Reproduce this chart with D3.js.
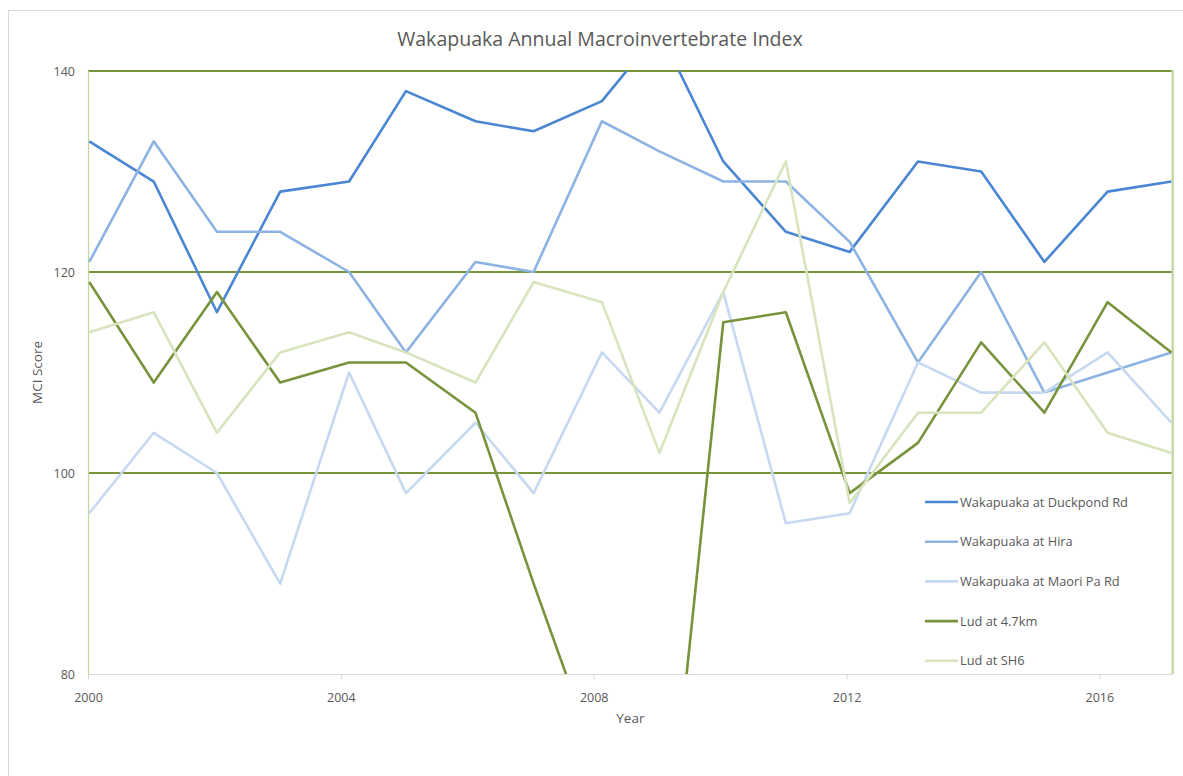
<!DOCTYPE html>
<html>
<head>
<meta charset="utf-8">
<script src="https://cdn.jsdelivr.net/npm/d3@7"></script>
<style>
  html, body { margin: 0; padding: 0; background: #ffffff; }
  svg { display: block; }
  text { font-family: "Open Sans", "Noto Sans", sans-serif; fill: #595959; }
</style>
</head>
<body>
<svg id="chart" width="1183" height="776"></svg>
<script>
// ---- data ----
const sampleYears = [2000.02, 2001.04, 2002.04, 2003.04, 2004.13, 2005.03, 2006.13, 2007.05, 2008.13,
                     2009.04, 2010.05, 2011.04, 2012.05, 2013.13, 2014.13, 2015.13, 2016.13, 2017.14];
const seriesNames = ["Wakapuaka at Duckpond Rd", "Wakapuaka at Hira", "Wakapuaka at Maori Pa Rd", "Lud at 4.7km", "Lud at SH6"];
const duckpond = [133, 129, 116, 128, 129, 138, 135, 134, 137, 144, 131, 124, 122, 131, 130, 121, 128, 129];
const hira     = [121, 133, 124, 124, 120, 112, 121, 120, 135, 132, 129, 129, 123, 111, 120, 108, 110, 112];
const maoriPa  = [96, 104, 100, 89, 110, 98, 105, 98, 112, 106, 118, 95, 96, 111, 108, 108, 112, 105];
const lud47    = [119, 109, 118, 109, 111, 111, 106, 89, 70, 54, 115, 116, 98, 103, 113, 106, 117, 112];
const ludSH6   = [114, 116, 104, 112, 114, 112, 109, 119, 117, 102, 118, 131, 97, 106, 106, 113, 104, 102];
const yTicks = [80, 100, 120, 140];
const xTicks = [2000, 2004, 2008, 2012, 2016];
const colors = ["#4a86d2", "#8db3e2", "#c6d9f1", "#77933c", "#d7e4bd"];

const seriesValues = [duckpond, hira, maoriPa, lud47, ludSH6];

// ---- layout ----
const svg = d3.select("#chart");
const pL = 88, pR = 1172.7, pT = 71, pB = 674;

const x = d3.scaleLinear().domain([2000, 2017.16]).range([pL, pR]);
const y = d3.scaleLinear().domain([80, 140]).range([pB, pT]);

// chart area border
svg.append("rect").attr("x", 8.5).attr("y", 10.5).attr("width", 1300).attr("height", 900)
  .attr("fill", "#fff").attr("stroke", "#d9d9d9").attr("stroke-width", 1);

// title
const title = svg.append("text").attr("x", 600).attr("y", 46).attr("text-anchor", "middle")
  .style("font-size", "18px").text("Wakapuaka Annual Macroinvertebrate Index");
(function fit(t, target) {
  const w = t.node().getComputedTextLength();
  const fs = parseFloat(t.style("font-size"));
  if (w > 0) t.style("font-size", (fs * target / w).toFixed(2) + "px");
})(title, 406);

// gridlines (green)
svg.append("g").selectAll("line").data(yTicks.filter(d => d > 80)).join("line")
  .attr("x1", pL).attr("x2", pR).attr("y1", d => y(d)).attr("y2", d => y(d))
  .attr("stroke", "#77933c").attr("stroke-width", 2);

// left axis line
svg.append("line").attr("x1", pL + 0.5).attr("x2", pL + 0.5).attr("y1", pT).attr("y2", pB)
  .attr("stroke", "#c3d69b").attr("stroke-width", 1.2);

// right border line
svg.append("line").attr("x1", pR).attr("x2", pR).attr("y1", pT - 1).attr("y2", pB)
  .attr("stroke", "#c8d8a8").attr("stroke-width", 2.5);

// x axis
const xAxis = d3.axisBottom(x).tickValues(xTicks).tickFormat(d3.format("d")).tickSize(5).tickPadding(14);
const gx = svg.append("g").attr("transform", `translate(0,${pB + 0.5})`).call(xAxis);
gx.select(".domain").attr("stroke", "#d9d9d9").attr("d", `M${pL},0H${pR}`);
gx.selectAll(".tick line").attr("stroke", "#d9d9d9");
gx.selectAll(".tick text").style("font-size", "12.5px").attr("fill", "#595959")
  .style("font-family", '"Open Sans", sans-serif');

// y axis
const yAxis = d3.axisLeft(y).tickValues(yTicks).tickSize(0).tickPadding(13);
const gy = svg.append("g").attr("transform", `translate(${pL},0)`).call(yAxis);
gy.select(".domain").remove();
gy.selectAll(".tick text").style("font-size", "12.5px").attr("fill", "#595959")
  .style("font-family", '"Open Sans", sans-serif');

// axis titles
svg.append("text").attr("x", (pL + pR) / 2).attr("y", 723).attr("text-anchor", "middle")
  .style("font-size", "13.5px").text("Year");
svg.append("text").attr("transform", `translate(42,${(pT + pB) / 2}) rotate(-90)`)
  .attr("text-anchor", "middle").style("font-size", "13.5px").text("MCI Score");

// clip for lines
svg.append("clipPath").attr("id", "plotClip").append("rect")
  .attr("x", pL - 2).attr("y", pT).attr("width", pR - pL + 4).attr("height", pB - pT);

const line = d3.line().x(d => x(d[0])).y(d => y(d[1]));
const gLines = svg.append("g").attr("clip-path", "url(#plotClip)");
seriesValues.forEach((vals, i) => {
  gLines.append("path").datum(sampleYears.map((yr, j) => [yr, vals[j]]))
    .attr("fill", "none").attr("stroke", colors[i]).attr("stroke-width", 2.6)
    .attr("stroke-linejoin", "round").attr("d", line);
});

// legend
const leg = svg.append("g");
seriesNames.forEach((name, i) => {
  const ly = 502 + i * 39.7;
  leg.append("line").attr("x1", 925).attr("x2", 958).attr("y1", ly).attr("y2", ly)
    .attr("stroke", colors[i]).attr("stroke-width", 2.6);
  leg.append("text").attr("x", 960).attr("y", ly + 4.6).style("font-size", "12.8px").text(name);
});
</script>
</body>
</html>
